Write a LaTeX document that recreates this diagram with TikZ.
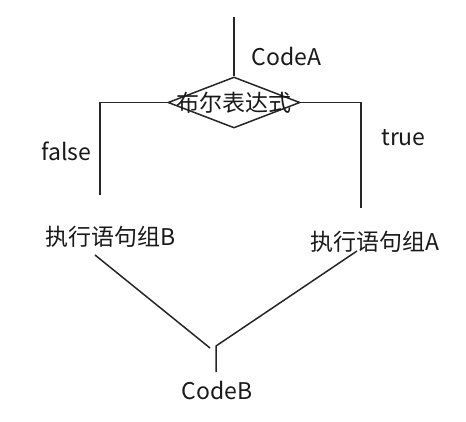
\documentclass[tikz,border=0pt]{standalone}
\usepackage{fontspec}
\setmainfont{Noto Sans CJK SC}
\usetikzlibrary{shapes.geometric}

\begin{document}
\begin{tikzpicture}
[x=1pt,y=-1pt,
	line/.style={draw=black!85,line width=1.5pt},
	txt/.style={inner sep=0pt,text=black!90,font=\fontsize{23}{27}\selectfont},
	decision/.style={diamond,line,minimum width=132pt,minimum height=51pt,inner sep=0pt}]
\useasboundingbox (0,0) rectangle (466,422);

\node[decision] (cond) at (234,102.5) {};
\node[txt] (condtext) at (cond.center) {布尔表达式};
\node[txt] (codeA) at (286.5,56) {CodeA};
\node[txt] (false) at (66.5,151) {false};
\node[txt] (true) at (403.5,138) {true};
\node[txt] (stmtB) at (111,237) {执行语句组B};
\node[txt] (stmtA) at (375,242) {执行语句组A};
\node[txt] (codeB) at (217,390) {CodeB};

\coordinate (start) at (234,17);
\coordinate (falseend) at (100,195);
\coordinate (trueend) at (361,208);
\coordinate (fromB) at (95,255);
\coordinate (fromA) at (357,251);
\coordinate (mergeB) at (210,348);
\coordinate (merge) at (216,346);
\coordinate (exit) at (216,372);

\draw[line] (start) -- (cond.north);
\draw[line] (cond.west) -| (falseend);
\draw[line] (cond.east) -| (trueend);
\draw[line] (fromB) -- (mergeB);
\draw[line] (fromA) -- (merge) -- (exit);
\end{tikzpicture}
\end{document}
